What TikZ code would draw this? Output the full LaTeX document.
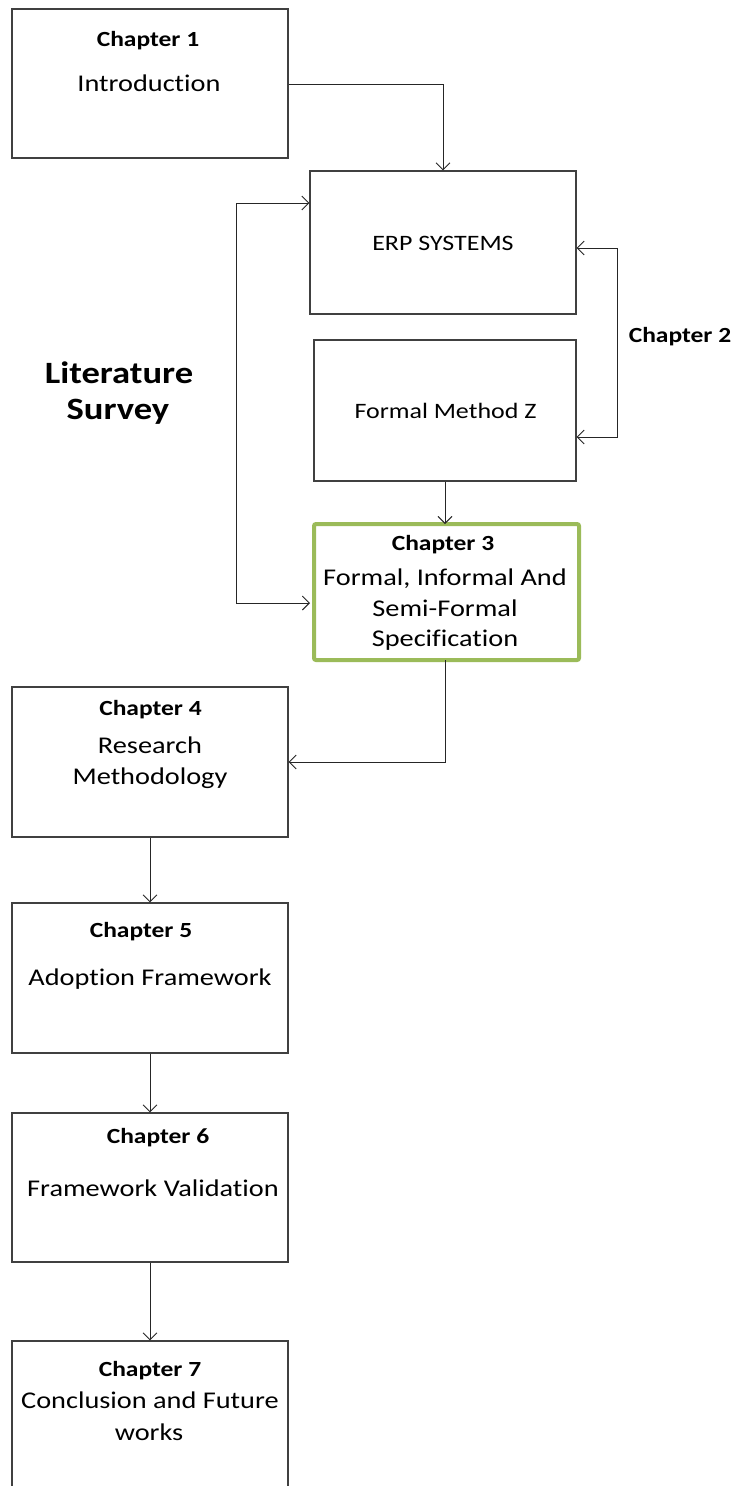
\documentclass[tikz,border=0pt]{standalone}
\usepackage{fontspec}
\setmainfont[FakeStretch=1.18, Ligatures=NoCommon]{Carlito}
\usetikzlibrary{arrows.meta}
\definecolor{chgreen}{HTML}{9BBB59}
\definecolor{edge}{HTML}{404040}
\tikzset{
  box/.style={draw=edge, line width=1.1pt, rectangle, inner sep=0pt, fill=white},
  keybox/.style={draw=chgreen, line width=4pt, rectangle, rounded corners=2pt, inner sep=0pt, fill=white},
  head/.style={font=\fontsize{21.6}{26}\selectfont\bfseries, inner sep=0pt, anchor=base},
  body/.style={font=\fontsize{24}{29}\selectfont, inner sep=0pt, anchor=base},
  topic/.style={font=\fontsize{22}{27}\selectfont, inner sep=0pt, anchor=base},
  part/.style={font=\fontsize{31}{36}\selectfont\bfseries, inner sep=0pt, anchor=base},
  link/.style={draw=black!85, line width=0.9pt, -{Straight Barb[length=7pt,width=14pt,line width=0.9pt]}}
}
\begin{document}
\begin{tikzpicture}[x=1pt, y=-1pt]
\path[use as bounding box, clip] (0,0) rectangle (734,1486);
\fill[white] (0,0) rectangle (734,1486);

% chapter boxes
\node[box, minimum width=276pt, minimum height=149pt] (ch1) at (150,83.5) {};
\node[box, minimum width=266pt, minimum height=143pt] (erp) at (443,242.5) {};
\node[box, minimum width=262pt, minimum height=141pt] (fmz) at (445,410.5) {};
\node[keybox, minimum width=265pt, minimum height=136pt] (ch3) at (446.5,592) {};
\node[box, minimum width=276pt, minimum height=150pt] (ch4) at (150,762) {};
\node[box, minimum width=276pt, minimum height=150pt] (ch5) at (150,978) {};
\node[box, minimum width=276pt, minimum height=149pt] (ch6) at (150,1187.5) {};
\node[box, minimum width=276pt, minimum height=159pt] (ch7) at (150,1420.5) {};

% box texts
\node[head] (ch1h) at (148,46.5) {Chapter 1};
\node[body] (ch1t) at (149,91) {Introduction};
\node[topic] (erpt) at (443,250) {ERP SYSTEMS};
\node[topic] (fmzt) at (445.5,418) {Formal Method Z};
\node[head] (ch3h) at (443,550) {Chapter 3};
\node[body] (ch3a) at (445,585) {Formal, Informal And};
\node[body] (ch3b) at (445,616) {Semi-Formal};
\node[body] (ch3c) at (445,646) {Specification};
\node[head] (ch4h) at (150.5,715) {Chapter 4};
\node[body] (ch4a) at (150,753) {Research};
\node[body] (ch4b) at (150,784) {Methodology};
\node[head] (ch5h) at (141,937) {Chapter 5};
\node[body] (ch5a) at (150,985) {Adoption Framework};
\node[head] (ch6h) at (158,1143) {Chapter 6};
\node[body] (ch6a) at (153,1196) {Framework Validation};
\node[head] (ch7h) at (150,1376) {Chapter 7};
\node[body] (ch7a) at (150,1408) {Conclusion and Future};
\node[body] (ch7b) at (149,1440) {works};

% side labels
\node[part] (lit1) at (119,383) {Literature};
\node[part] (lit2) at (118,419) {Survey};
\node[head] (c2lbl) at (680,342) {Chapter 2};

% connector corners
\coordinate (j1) at (443,84);
\coordinate (c2a) at (617,248);
\coordinate (c2b) at (617,437);
\coordinate (lsa) at (236,203);
\coordinate (lsb) at (236,603);
\coordinate (j3) at (445,762);

% connectors
\draw[link] (ch1.east |- j1) -- (j1) -- (j1 |- erp.north);
\draw[link] (c2b) -- (c2a) -- (c2a -| erp.east);
\draw[link] (c2a) -- (c2b) -- (c2b -| fmz.east);
\draw[link] (lsb) -- (lsa) -- (lsa -| erp.west);
\draw[link] (lsa) -- (lsb) -- ([xshift=-2pt]lsb -| ch3.west);
\draw[link] (fmz.south) -- ([yshift=-2pt]fmz.south |- ch3.north);
\draw[link] ([yshift=2pt]j3 |- ch3.south) -- (j3) -- (j3 -| ch4.east);
\draw[link] (ch4.south) -- (ch5.north);
\draw[link] (ch5.south) -- (ch6.north);
\draw[link] (ch6.south) -- (ch7.north);
\end{tikzpicture}
\end{document}
